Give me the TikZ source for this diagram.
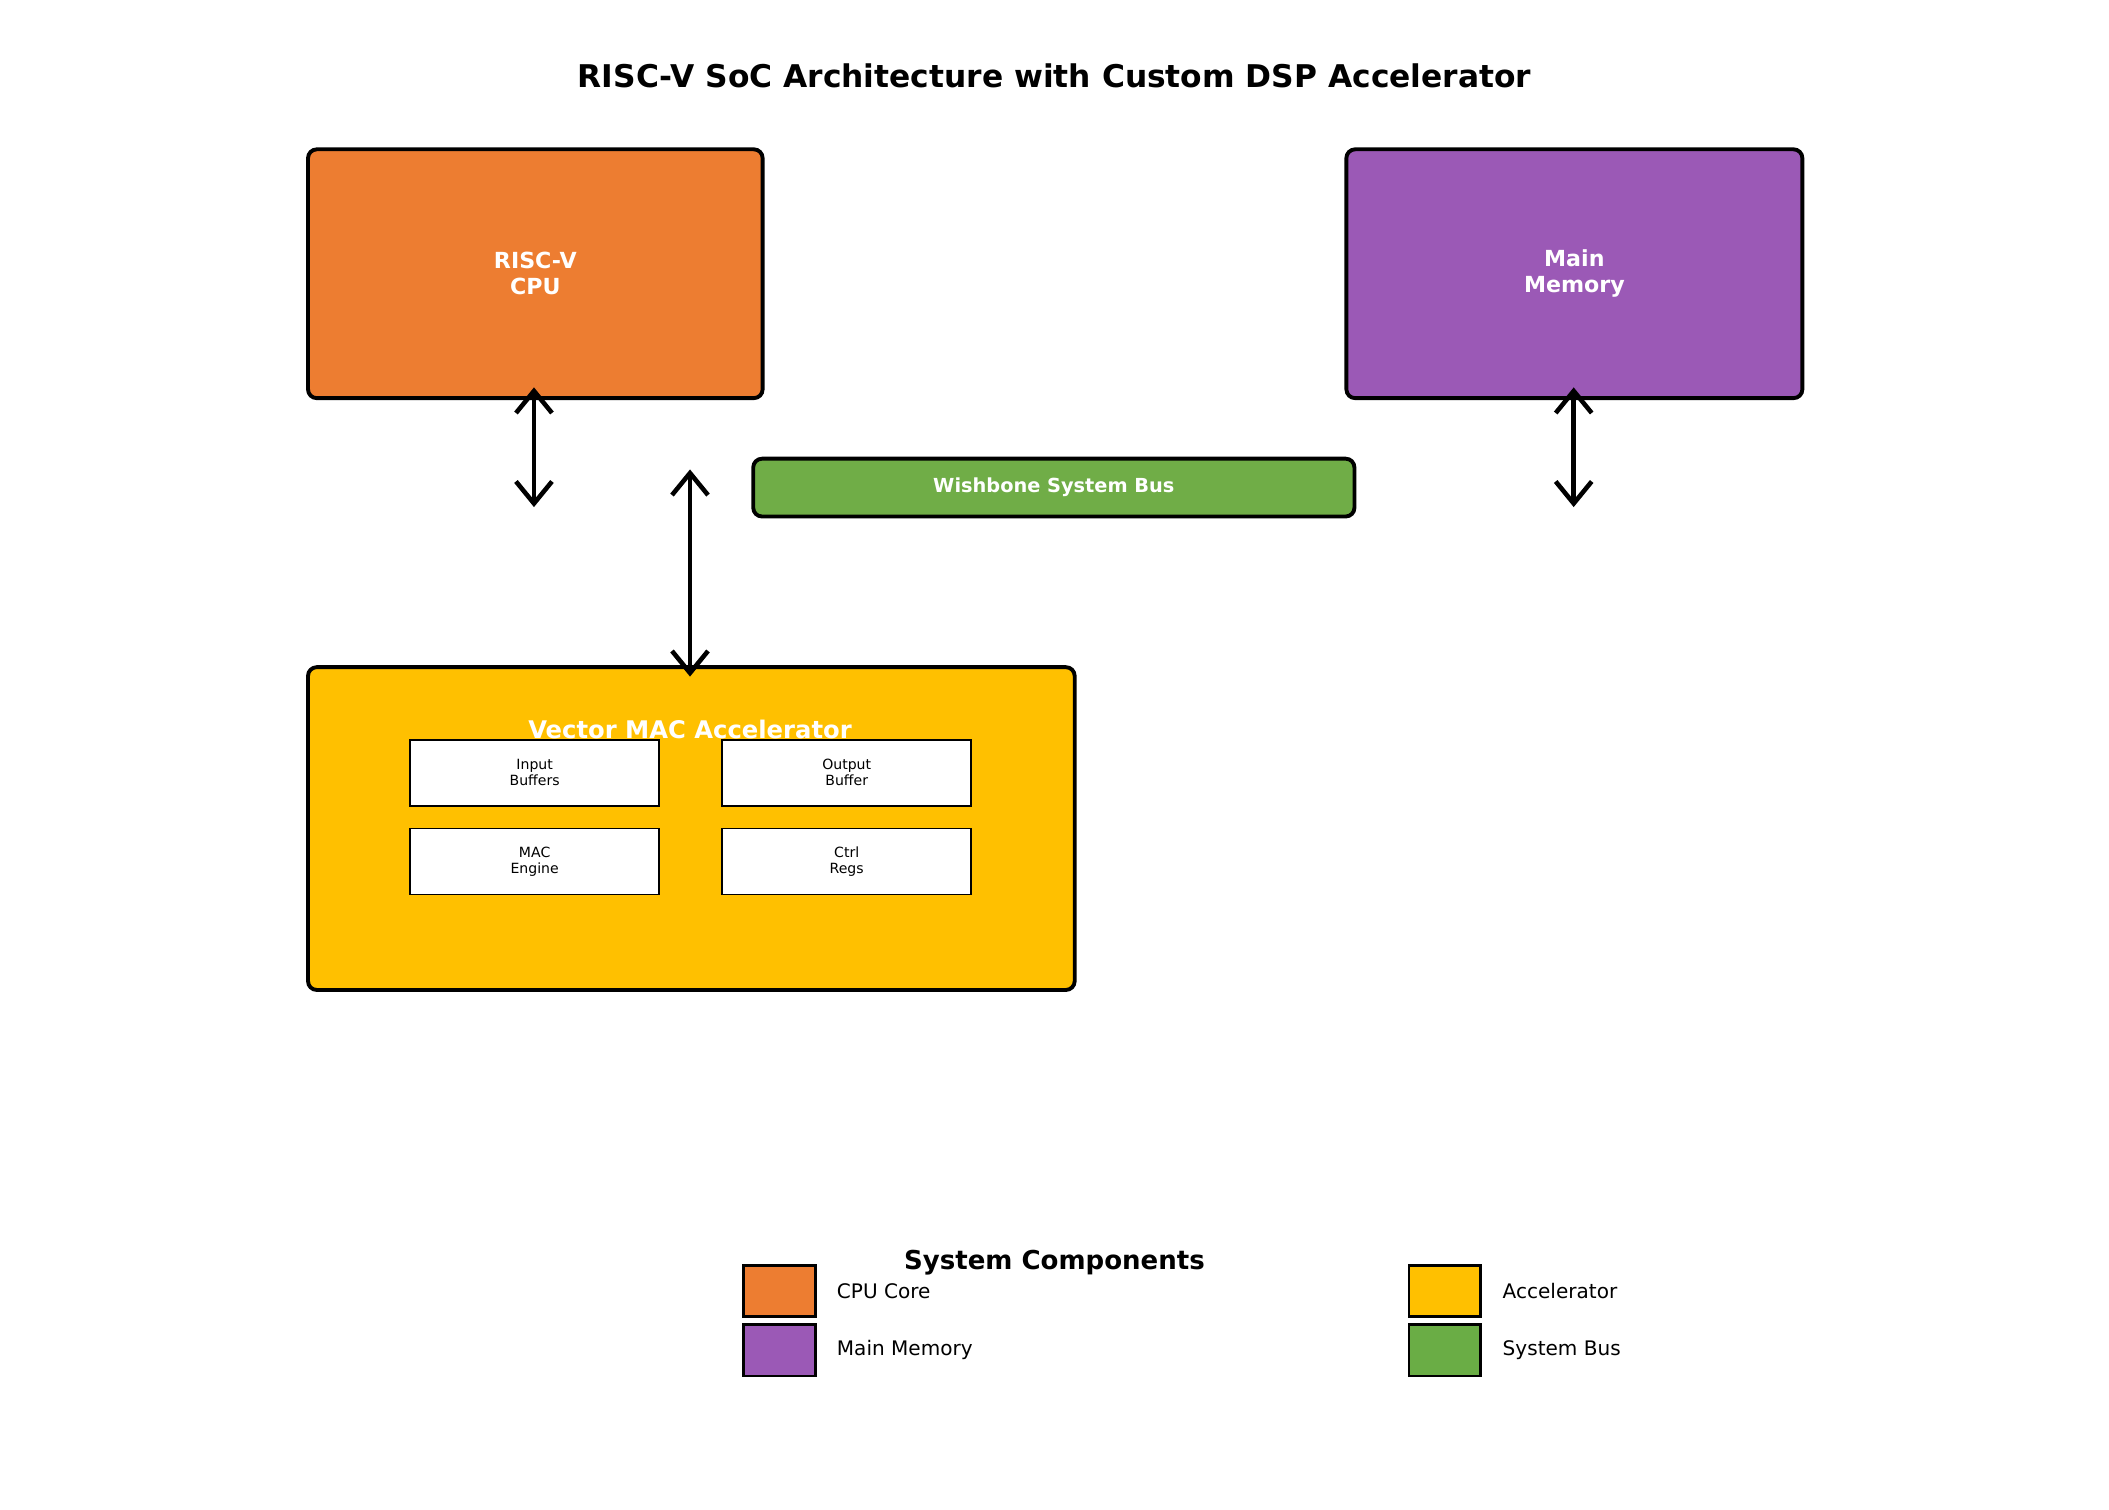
\documentclass[tikz,border=0pt]{standalone}
\usepackage{fontspec}
\setmainfont{DejaVu Sans}
\usetikzlibrary{arrows.meta,positioning}
\definecolor{cpuc}{HTML}{ED7D31}
\definecolor{memc}{HTML}{9B59B6}
\definecolor{busc}{HTML}{70AD47}
\definecolor{accc}{HTML}{FFC000}
\definecolor{legbus}{HTML}{6AAD45}
\tikzset{
  block/.style={draw, line width=1.1pt, rounded corners=2.5pt, text=white, font=\fontsize{6.3}{7.3}\selectfont\bfseries, align=center},
  subbox/.style={draw, line width=0.5pt, fill=white, minimum width=185*0.01345cm, minimum height=49*0.01345cm, align=center, font=\fontsize{4}{4.6}\selectfont},
  link/.style={line width=1.3pt, {Straight Barb[length=2.2mm,width=3.6mm]}-{Straight Barb[length=2.2mm,width=3.6mm]}},
  patch/.style={draw, line width=0.8pt, minimum width=53*0.01345cm, minimum height=38*0.01345cm},
  leglabel/.style={anchor=west, font=\fontsize{5.7}{6.5}\selectfont}
}
\begin{document}
\begin{tikzpicture}[x=0.01345cm, y=-0.01345cm]
  \useasboundingbox (0,0) rectangle (1568,1122);
  \node (title) at (784,56) {\fontsize{8.9}{10}\selectfont\bfseries RISC-V SoC Architecture with Custom DSP Accelerator};
  % main blocks
  \node (cpu) [block, fill=cpuc, minimum width=338*0.01345cm, minimum height=185*0.01345cm] at (398,203.5) {RISC-V\\CPU};
  \node (mem) [block, fill=memc, minimum width=339*0.01345cm, minimum height=185*0.01345cm] at (1170.5,203.5) {Main\\Memory};
  \node (bus) [block, fill=busc, minimum width=447*0.01345cm, minimum height=43*0.01345cm, font=\fontsize{5.5}{6.5}\selectfont\bfseries] at (783.5,362.5) {Wishbone System Bus};
  \node (acc) [block, fill=accc, minimum width=570*0.01345cm, minimum height=240*0.01345cm] at (514,616) {};
  \node (acctitle) [text=white, font=\fontsize{6.9}{8}\selectfont\bfseries] at (513,542) {Vector MAC Accelerator};
  % inner units
  \node (inbuf) [subbox] at (397.5,574.5) {Input\\Buffers};
  \node (outbuf) [subbox] at (629.5,574.5) {Output\\Buffer};
  \node (mac) [subbox] at (397.5,640.5) {MAC\\Engine};
  \node (regs) [subbox] at (629.5,640.5) {Ctrl\\Regs};
  % bus links
  \coordinate (cpubus) at (397,377);
  \coordinate (accbus) at (513,349);
  \coordinate (accin) at (513,503);
  \coordinate (membus) at (1170,377);
  \draw[link] (397,288) -- (cpubus);
  \draw[link] (accbus) -- (accin);
  \draw[link] (1170,288) -- (membus);
  % legend
  \node (legtitle) at (784,939) {\fontsize{7.4}{8.5}\selectfont\bfseries System Components};
  \node (p1) [patch, fill=cpuc] at (579.5,960) {};
  \node (p2) [patch, fill=memc] at (579.5,1004) {};
  \node (p3) [patch, fill=accc] at (1074,960) {};
  \node (p4) [patch, fill=legbus] at (1074,1004) {};
  \node (l1) [leglabel] at (613,960) {CPU Core};
  \node (l2) [leglabel] at (613,1004) {Main Memory};
  \node (l3) [leglabel] at (1108,960) {Accelerator};
  \node (l4) [leglabel] at (1108,1004) {System Bus};
\end{tikzpicture}
\end{document}
